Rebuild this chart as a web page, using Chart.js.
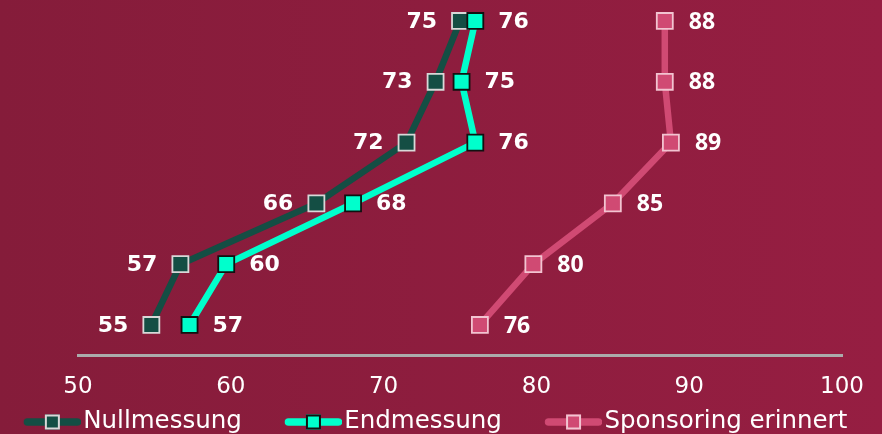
<!DOCTYPE html>
<html>
<head>
<meta charset="utf-8">
<script src="https://cdn.jsdelivr.net/npm/chart.js@4"></script>
<style>
html, body { margin: 0; padding: 0; }
body {
  width: 882px; height: 434px; overflow: hidden;
  background: linear-gradient(90deg, #851c3a 0%, #961e42 100%);
}
#wrap { position: relative; width: 882px; height: 434px; }
</style>
</head>
<body>
<div id="wrap"><canvas id="chart"></canvas></div>
<script>
// rows from top (0) to bottom (5)
var rows = [0, 1, 2, 3, 4, 5];
var nullmessung = [75.0, 73.4, 71.5, 65.6, 56.7, 54.8];
var endmessung  = [76.0, 75.1, 76.0, 68.0, 59.7, 57.3];
var sponsoring  = [88.4, 88.4, 88.8, 85.0, 79.8, 76.3];
var xTicks = [50, 60, 70, 80, 90, 100];
var seriesNames = ['Nullmessung', 'Endmessung', 'Sponsoring erinnert'];

var colNull = '#144e44', colEnd = '#00ffcc', colSpons = '#d04a73';

function toPoints(vals){
  return vals.map(function(v, i){ return {x: v, y: rows[i]}; });
}

// legend marker: line with a square in the middle
function legendMarker(lineColor, fill, border){
  var c = document.createElement('canvas');
  c.width = 100; c.height = 18;
  var g = c.getContext('2d');
  g.strokeStyle = lineColor; g.lineWidth = 7.5; g.lineCap = 'round';
  g.beginPath(); g.moveTo(46.5, 9); g.lineTo(96.5, 9); g.stroke();
  g.fillStyle = fill; g.fillRect(64, 1.5, 15, 15);
  g.strokeStyle = border; g.lineWidth = 2; g.strokeRect(65, 2.5, 13, 13);
  return c;
}
var markers = [
  legendMarker(colNull, colNull, '#d8d8d8'),
  legendMarker(colEnd, colEnd, '#111111'),
  legendMarker(colSpons, colSpons, '#f2c4d1')
];

// where each series puts its value labels
var labelStyle = [
  {side: 'left',  gap: 23, font: 'bold 22px "DejaVu Sans"'},
  {side: 'right', gap: 23, font: 'bold 22px "DejaVu Sans"'},
  {side: 'right', gap: 24, font: 'bold 23px "Open Sans"'}
];

var valueLabels = {
  id: 'valueLabels',
  afterDatasetsDraw: function(chart){
    var ctx = chart.ctx;
    ctx.save();
    ctx.fillStyle = '#ffffff';
    ctx.textBaseline = 'middle';
    chart.data.datasets.forEach(function(ds, i){
      var st = labelStyle[i];
      var meta = chart.getDatasetMeta(i);
      ctx.font = st.font;
      ctx.textAlign = st.side == 'left' ? 'right' : 'left';
      meta.data.forEach(function(pt, j){
        var txt = String(Math.round(ds.data[j].x));
        var x = st.side == 'left' ? pt.x - st.gap : pt.x + st.gap;
        ctx.fillText(txt, x, pt.y + 1);
      });
    });
    ctx.restore();
  }
};

function lineSet(label, vals, color, ptBorder, order){
  return {
    label: label,
    data: toPoints(vals),
    borderColor: color,
    backgroundColor: color,
    borderWidth: 6.5,
    tension: 0,
    pointStyle: 'rect',
    pointRadius: 11.3,
    pointHoverRadius: 11.3,
    pointBackgroundColor: color,
    pointBorderColor: ptBorder,
    pointBorderWidth: 1.8,
    clip: false,
    order: order
  };
}

new Chart(document.getElementById('chart'), {
  type: 'line',
  data: {
    datasets: [
      lineSet(seriesNames[0], nullmessung, colNull, '#d8d8d8', 1),
      lineSet(seriesNames[1], endmessung, colEnd, '#111111', 0),
      lineSet(seriesNames[2], sponsoring, colSpons, '#f2c4d1', 2)
    ]
  },
  options: {
    indexAxis: 'y',
    responsive: true,
    maintainAspectRatio: false,
    animation: false,
    layout: { autoPadding: false, padding: { left: -22, right: 22, top: 0, bottom: 0 } },
    scales: {
      x: {
        type: 'linear',
        position: 'bottom',
        min: xTicks[0],
        max: xTicks[xTicks.length - 1],
        afterBuildTicks: function(s){ s.ticks = xTicks.map(function(v){ return {value: v}; }); },
        afterFit: function(s){ s.height = 44.75; },
        grid: { display: false, drawTicks: false },
        border: { display: true, color: '#ababab', width: 3 },
        ticks: { color: '#ffffff', padding: 18, font: { family: 'DejaVu Sans', size: 23 } }
      },
      y: {
        type: 'linear',
        position: 'left',
        reverse: true,
        min: -0.345,
        max: 5.494,
        grid: { display: false },
        border: { display: false },
        ticks: { display: false },
        afterFit: function(s){ s.width = 100; }
      },
      yRight: {
        type: 'linear',
        position: 'right',
        grid: { display: false },
        border: { display: false },
        ticks: { display: false },
        afterFit: function(s){ s.width = 17; }
      }
    },
    plugins: {
      tooltip: { enabled: false },
      legend: {
        position: 'bottom',
        maxHeight: 34.25,
        labels: {
          color: '#ffffff',
          font: { family: 'DejaVu Sans', size: 24.5 },
          usePointStyle: true,
          pointStyleWidth: 80.25,
          padding: 10,
          sort: function(a, b){ return a.datasetIndex - b.datasetIndex; },
          generateLabels: function(chart){
            var items = Chart.defaults.plugins.legend.labels.generateLabels(chart);
            items.forEach(function(it){ it.pointStyle = markers[it.datasetIndex]; });
            return items;
          }
        }
      }
    }
  },
  plugins: [valueLabels]
});
</script>
</body>
</html>
